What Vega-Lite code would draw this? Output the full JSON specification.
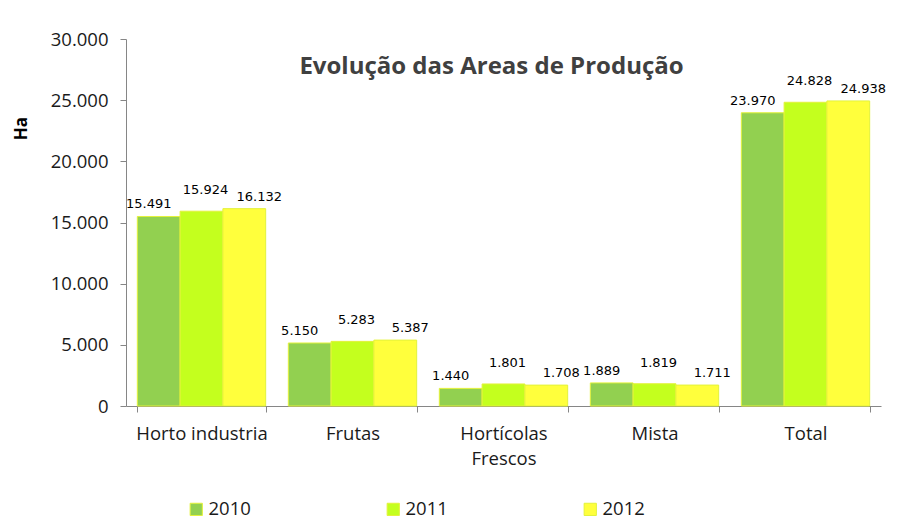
{
  "$schema": "https://vega.github.io/schema/vega-lite/v6.json",
  "width": 755,
  "height": 367,
  "autosize": {"type": "none"},
  "padding": {"left": 126, "top": 39, "right": 43, "bottom": 123},
  "background": "white",
  "title": {
    "text": "Evolução das Areas de Produção",
    "font": "Open Sans",
    "fontSize": 24,
    "fontWeight": "bold",
    "color": "#404040",
    "anchor": "middle",
    "baseline": "middle",
    "dx": -12,
    "dy": 65
  },
  "data": {
    "values": [
      {"categoria": "Horto industria", "ano": "2010", "area": 15491},
      {"categoria": "Horto industria", "ano": "2011", "area": 15924},
      {"categoria": "Horto industria", "ano": "2012", "area": 16132},
      {"categoria": "Frutas", "ano": "2010", "area": 5150},
      {"categoria": "Frutas", "ano": "2011", "area": 5283},
      {"categoria": "Frutas", "ano": "2012", "area": 5387},
      {"categoria": "Hortícolas Frescos", "ano": "2010", "area": 1440},
      {"categoria": "Hortícolas Frescos", "ano": "2011", "area": 1801},
      {"categoria": "Hortícolas Frescos", "ano": "2012", "area": 1708},
      {"categoria": "Mista", "ano": "2010", "area": 1889},
      {"categoria": "Mista", "ano": "2011", "area": 1819},
      {"categoria": "Mista", "ano": "2012", "area": 1711},
      {"categoria": "Total", "ano": "2010", "area": 23970},
      {"categoria": "Total", "ano": "2011", "area": 24828},
      {"categoria": "Total", "ano": "2012", "area": 24938}
    ]
  },
  "encoding": {
    "x": {
      "field": "categoria",
      "type": "nominal",
      "sort": null,
      "scale": {"paddingInner": 0.15, "paddingOuter": 0.075},
      "axis": {
        "title": null,
        "labelAngle": 0,
        "labelFont": "Open Sans",
        "labelFontSize": 18.5,
        "labelColor": "#1a1a1a",
        "labelPadding": 12,
        "labelBaseline": "top",
        "labelLineHeight": 25,
        "labelExpr": "datum.value == 'Hortícolas Frescos' ? ['Hortícolas', 'Frescos'] : datum.value",
        "domainColor": "#868686",
        "tickColor": "#868686",
        "tickBand": "extent",
        "tickSize": 6,
        "grid": false
      }
    },
    "xOffset": {"field": "ano", "type": "nominal", "scale": {"paddingInner": 0, "paddingOuter": 0}},
    "y": {
      "field": "area",
      "type": "quantitative",
      "scale": {"domain": [0, 30000], "nice": false},
      "axis": {
        "title": "Ha",
        "titleFont": "Open Sans",
        "titleFontSize": 17,
        "titleFontWeight": "bold",
        "titleColor": "#000000",
        "titleAngle": -90,
        "titleX": -105,
        "titleY": 89,
        "titleAlign": "center",
        "titleBaseline": "middle",
        "values": [0, 5000, 10000, 15000, 20000, 25000, 30000],
        "format": ",d",
        "labelFont": "Open Sans",
        "labelFontSize": 18.5,
        "labelColor": "#1a1a1a",
        "labelPadding": 12,
        "tickSize": 6,
        "domainColor": "#868686",
        "tickColor": "#868686",
        "grid": false
      }
    }
  },
  "layer": [
    {
      "mark": {"type": "bar", "stroke": "#E3F23A", "strokeWidth": 1},
      "encoding": {
        "color": {
          "field": "ano",
          "type": "nominal",
          "scale": {"domain": ["2010", "2011", "2012"], "range": ["#92D050", "#C4FF1E", "#FFFF3C"]},
          "legend": {
            "title": null,
            "orient": "none",
            "direction": "horizontal",
            "legendX": 61,
            "legendY": 461,
            "symbolType": "square",
            "symbolSize": 150,
            "symbolStrokeColor": "#E3F23A",
            "symbolStrokeWidth": 1,
            "symbolOpacity": 1,
            "labelFont": "Open Sans",
            "labelFontSize": 18.5,
            "labelColor": "#1a1a1a",
            "labelOffset": 3,
            "columnPadding": 133
          }
        }
      }
    },
    {
      "transform": [{"filter": "datum.ano == '2010'"}],
      "mark": {"type": "text", "baseline": "bottom", "dx": -10, "dy": -5, "font": "DejaVu Sans", "fontSize": 13, "color": "#000000"},
      "encoding": {"text": {"field": "area", "type": "quantitative", "format": ",d"}}
    },
    {
      "transform": [{"filter": "datum.ano == '2011'"}],
      "mark": {"type": "text", "baseline": "bottom", "dx": 4, "dy": -14, "font": "DejaVu Sans", "fontSize": 13, "color": "#000000"},
      "encoding": {"text": {"field": "area", "type": "quantitative", "format": ",d"}}
    },
    {
      "transform": [{"filter": "datum.ano == '2012'"}],
      "mark": {"type": "text", "baseline": "bottom", "dx": 15, "dy": -5, "font": "DejaVu Sans", "fontSize": 13, "color": "#000000"},
      "encoding": {"text": {"field": "area", "type": "quantitative", "format": ",d"}}
    }
  ],
  "config": {
    "view": {"stroke": null},
    "locale": {"number": {"decimal": ",", "thousands": ".", "grouping": [3], "currency": ["€", ""]}}
  }
}
